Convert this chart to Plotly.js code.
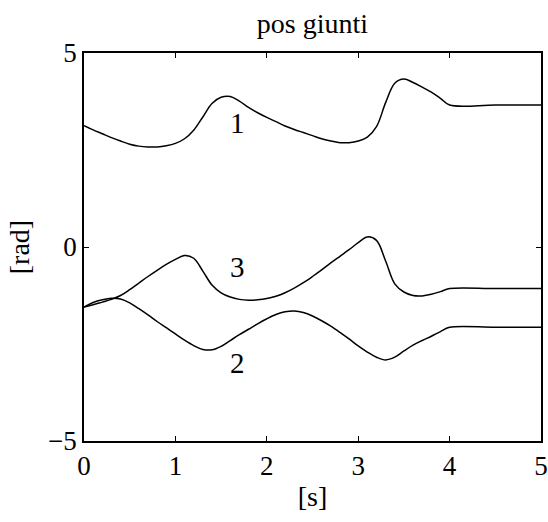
<!DOCTYPE html>
<html>
<head>
<meta charset="utf-8">
<script src="https://cdn.plot.ly/plotly-3.0.1.min.js"></script>
<style>html,body{margin:0;padding:0;background:#fff;}#chart{width:548px;height:522px;}</style>
</head>
<body>
<div id="chart"></div>
<script>
const t = [0, 0.1, 0.2, 0.3, 0.4, 0.5, 0.6, 0.7, 0.8, 0.9, 1.0, 1.1, 1.2, 1.3, 1.4, 1.5, 1.6, 1.7, 1.8, 1.9, 2.0,
           2.1, 2.2, 2.3, 2.4, 2.5, 2.6, 2.7, 2.8, 2.9, 3.0, 3.1, 3.2, 3.3, 3.4, 3.5, 3.6, 3.7, 3.8, 3.9, 4.0, 4.5, 5.0];
const joint1 = [3.13, 3.02, 2.92, 2.82, 2.73, 2.65, 2.60, 2.58, 2.58, 2.61, 2.67, 2.79, 3.01, 3.35, 3.70, 3.86, 3.88, 3.76, 3.60, 3.46, 3.34,
                3.23, 3.12, 3.03, 2.95, 2.87, 2.79, 2.73, 2.69, 2.69, 2.73, 2.83, 3.10, 3.72, 4.22, 4.33, 4.24, 4.12, 3.99, 3.83, 3.66, 3.66, 3.66];
const joint2 = [-1.55, -1.43, -1.36, -1.32, -1.34, -1.44, -1.59, -1.75, -1.92, -2.08, -2.24, -2.40, -2.54, -2.64, -2.65, -2.56, -2.41, -2.26, -2.12, -1.98, -1.85,
                -1.74, -1.67, -1.65, -1.69, -1.78, -1.90, -2.04, -2.20, -2.37, -2.55, -2.71, -2.84, -2.91, -2.84, -2.68, -2.53, -2.41, -2.30, -2.18, -2.07, -2.07, -2.07];
const joint3 = [-1.55, -1.49, -1.42, -1.35, -1.25, -1.10, -0.93, -0.76, -0.60, -0.45, -0.32, -0.22, -0.29, -0.62, -0.98, -1.18, -1.29, -1.35, -1.37, -1.36, -1.33,
                -1.27, -1.18, -1.06, -0.92, -0.76, -0.59, -0.41, -0.24, -0.07, 0.11, 0.26, 0.17, -0.36, -0.95, -1.16, -1.25, -1.26, -1.22, -1.15, -1.07, -1.07, -1.07];
const labelText = ['1', '2', '3'];
const labelX = [1.68, 1.68, 1.68];
const labelY = [3.19, -3.0, -0.51];
const xTicks = [0, 1, 2, 3, 4, 5];
const yTicks = [-5, 0, 5];

const font = '"Liberation Serif", "Times New Roman", serif';
const mk = y => ({x: t, y: y, type: 'scatter', mode: 'lines', line: {color: '#000', width: 1.5, shape: 'spline', smoothing: 1}, hoverinfo: 'none'});

const data = [mk(joint1), mk(joint2), mk(joint3)];
const annotations = labelText.map((s, i) => ({x: labelX[i], y: labelY[i], text: s, showarrow: false, font: {family: font, size: 29, color: '#000'}}));

const axisCommon = {
  showgrid: false, zeroline: false, showline: true, linecolor: '#000', linewidth: 1.8,
  mirror: 'ticks', ticks: 'inside', ticklen: 5, tickwidth: 1, tickcolor: '#000',
  tickfont: {family: font, size: 27, color: '#000'}
};

const layout = {
  width: 548, height: 522,
  margin: {l: 84, r: 7, t: 53, b: 81},
  paper_bgcolor: '#fff', plot_bgcolor: '#fff',
  showlegend: false,
  title: {text: 'pos giunti', font: {family: font, size: 28, color: '#000'}, x: 0.57, xanchor: 'center', y: 0.955, yanchor: 'middle'},
  xaxis: Object.assign({}, axisCommon, {range: [0, 5], tickvals: xTicks, ticktext: xTicks.map(String),
    title: {text: '[s]', font: {family: font, size: 28, color: '#000'}, standoff: 6}}),
  yaxis: Object.assign({}, axisCommon, {range: [-5, 5], tickvals: yTicks, ticktext: yTicks.map(v => v < 0 ? '\u2212' + Math.abs(v) : String(v)),
    title: {text: '[rad]', font: {family: font, size: 28, color: '#000'}, standoff: 10}}),
  annotations: annotations
};

Plotly.newPlot('chart', data, layout, {displayModeBar: false, staticPlot: true});
</script>
</body>
</html>
